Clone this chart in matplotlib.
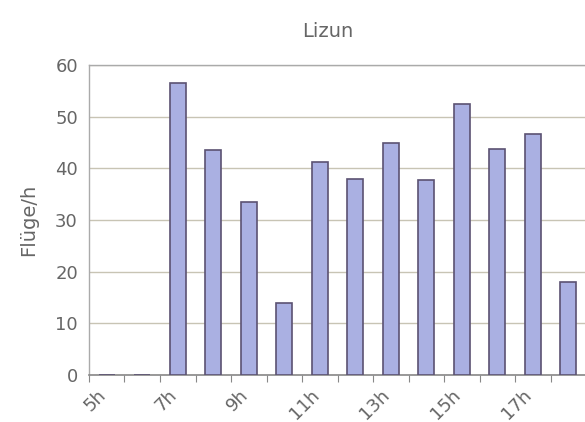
import matplotlib.pyplot as plt
from matplotlib.transforms import ScaledTranslation

hours = ['5h', '6h', '7h', '8h', '9h', '10h', '11h', '12h', '13h', '14h', '15h', '16h', '17h', '18h']
flights = [0, 0, 56.5, 43.5, 33.5, 14, 41.2, 38, 45, 37.8, 52.5, 43.7, 46.7, 18]

fig = plt.figure(figsize=(5.85, 4.22), dpi=100)
ax = fig.add_axes([89 / 585, 1 - 375 / 422, 497 / 585, 310 / 422])

x = range(len(hours))
ax.bar(x, flights, width=0.45, color='#aab0e2', edgecolor='#5b5272', linewidth=1.2, zorder=3)

ax.set_xlim(-0.5, len(hours) - 0.5)
ax.set_ylim(0, 60)
ax.set_yticks(range(0, 61, 10))
ax.yaxis.grid(True, color='#c8c4b4', linewidth=1, zorder=0)

# category ticks sit between the bars, labels on every other hour
ax.set_xticks([i - 0.5 for i in range(len(hours))], minor=False)
ax.set_xticklabels([])
ax.set_xticks(list(x)[::2], minor=True)
ax.set_xticklabels(hours[::2], minor=True, rotation=45, ha='right', va='top',
                   rotation_mode='anchor', fontsize=13, color='#666666')
ax.tick_params(axis='x', which='minor', length=0, pad=8)
ax.tick_params(axis='x', which='major', length=5, color='#888888', direction='out')
ax.tick_params(axis='y', length=0, labelsize=13, labelcolor='#666666', pad=8)
shift = ScaledTranslation(-0.1, 0, fig.dpi_scale_trans)
for lab in ax.get_xticklabels(minor=True):
    lab.set_transform(lab.get_transform() + shift)

for s in ['top', 'right', 'left']:
    ax.spines[s].set_color('#aaaaaa')
    ax.spines[s].set_linestyle((0, (2, 1)))
    ax.spines[s].set_linewidth(1)
ax.spines['bottom'].set_color('#888888')
ax.spines['bottom'].set_linewidth(1.2)

ax.set_ylabel('Flüge/h', fontsize=14, color='#666666', labelpad=12)
ax.set_title('Lizun', fontsize=14, color='#666666', pad=20, x=0.48)

fig.savefig('out.png', dpi=100)
